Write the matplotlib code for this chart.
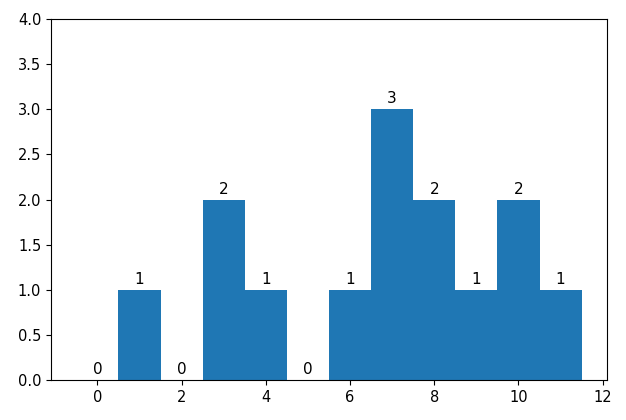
import numpy as np
from matplotlib import pyplot as plt

positions = [0, 1, 2, 3, 4, 5, 6, 7, 8, 9, 10, 11]
counts = [0, 1, 0, 2, 1, 0, 1, 3, 2, 1, 2, 1]

fig = plt.figure(figsize=(6.26, 4.2), dpi=100)
ax = fig.add_axes([0.0815, 0.095, 0.888, 0.860])
bars = ax.bar(positions, counts, width=1.0, color='#1f77b4')
for b, c in zip(bars, counts):
  ax.annotate(str(c), (b.get_x() + b.get_width() / 2, b.get_height()),
              xytext=(0, 2), textcoords='offset points',
              ha='center', va='bottom', fontsize=11)
ax.set_ylim(0, 4)
ax.set_xticks(np.arange(0, 13, 2))
ax.set_yticks(np.arange(0, 4.01, 0.5))
ax.tick_params(labelsize=10.5)
fig.savefig('out.png', dpi=100)
